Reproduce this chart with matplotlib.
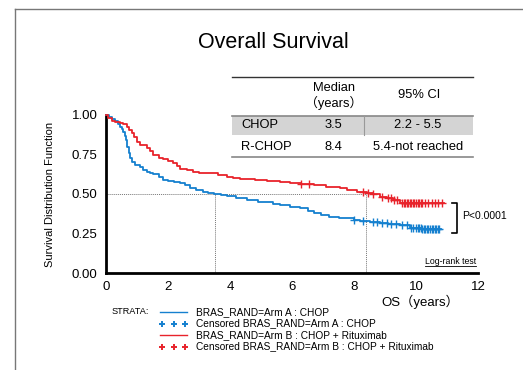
import matplotlib
matplotlib.use("Agg")
import matplotlib.pyplot as plt
import numpy as np

plt.rcParams['font.family'] = ['Liberation Sans', 'Noto Sans CJK JP', 'DejaVu Sans']

# Kaplan-Meier step curves
chop_t = [0, 0.1, 0.2, 0.3, 0.4, 0.45, 0.5, 0.55, 0.6, 0.64, 0.69, 0.73, 0.77, 0.85,
          0.95, 1.1, 1.2, 1.31, 1.42, 1.53, 1.7, 1.85, 2.0, 2.2, 2.39, 2.55, 2.71, 2.9,
          3.14, 3.3, 3.48, 3.7, 3.9, 4.2, 4.54, 4.9, 5.4, 5.6, 5.94, 6.26, 6.5, 6.7,
          6.95, 7.2, 7.5, 7.76, 8.0, 8.2, 8.5, 8.84, 9.1, 9.48, 9.8, 10.2, 10.8]
chop_s = [1.0, 0.985, 0.975, 0.965, 0.945, 0.926, 0.91, 0.89, 0.865, 0.84, 0.80, 0.76,
          0.725, 0.70, 0.685, 0.67, 0.655, 0.64, 0.632, 0.627, 0.61, 0.59, 0.582, 0.575,
          0.57, 0.555, 0.54, 0.528, 0.515, 0.508, 0.50, 0.493, 0.487, 0.475, 0.46, 0.45,
          0.437, 0.43, 0.416, 0.41, 0.395, 0.38, 0.368, 0.356, 0.35, 0.346, 0.338, 0.331,
          0.322, 0.314, 0.308, 0.304, 0.285, 0.28, 0.28]
rchop_t = [0, 0.08, 0.18, 0.3, 0.45, 0.55, 0.67, 0.75, 0.83, 0.9, 0.99, 1.1, 1.31, 1.42,
           1.53, 1.7, 1.85, 2.0, 2.17, 2.28, 2.39, 2.6, 2.82, 3.0, 3.25, 3.6, 3.9, 4.1,
           4.32, 4.8, 5.18, 5.6, 5.94, 6.3, 6.7, 7.1, 7.55, 7.76, 8.1, 8.41, 8.6, 8.84,
           9.05, 9.27, 9.48, 10.9]
rchop_s = [1.0, 0.98, 0.96, 0.955, 0.947, 0.94, 0.926, 0.905, 0.884, 0.86, 0.83, 0.81,
           0.79, 0.77, 0.747, 0.73, 0.72, 0.71, 0.694, 0.675, 0.658, 0.65, 0.641, 0.636,
           0.631, 0.62, 0.61, 0.60, 0.593, 0.587, 0.582, 0.575, 0.568, 0.565, 0.557,
           0.547, 0.536, 0.525, 0.515, 0.504, 0.497, 0.483, 0.472, 0.462, 0.441, 0.441]

chop_cens = [8.0, 8.3, 8.6, 8.75, 8.9, 9.05, 9.2, 9.35, 9.55, 9.7, 9.85, 9.9, 10.0,
             10.05, 10.1, 10.15, 10.2, 10.25, 10.3, 10.35, 10.4, 10.45, 10.5, 10.55,
             10.6, 10.65, 10.7, 10.75]
rchop_cens = [6.3, 6.55, 8.3, 8.45, 8.6, 8.9, 9.1, 9.2, 9.3, 9.4, 9.55, 9.6, 9.65, 9.7,
              9.75, 9.8, 9.85, 9.9, 9.95, 10.0, 10.05, 10.1, 10.15, 10.2, 10.3, 10.4,
              10.5, 10.6, 10.7, 10.85]

medians = {'CHOP': 3.5, 'R-CHOP': 8.4}
table_rows = [('CHOP', '3.5', '2.2 - 5.5'), ('R-CHOP', '8.4', '5.4-not reached')]
legend_labels = ['BRAS_RAND=Arm A : CHOP', 'Censored BRAS_RAND=Arm A : CHOP',
                 'BRAS_RAND=Arm B : CHOP + Rituximab',
                 'Censored BRAS_RAND=Arm B : CHOP + Rituximab']

BLUE = '#1580cf'
RED = '#e8232b'
W, H = 523, 370


def step_at(ts, ss, x):
    ts = np.asarray(ts)
    ss = np.asarray(ss)
    idx = np.searchsorted(ts, x, side='right') - 1
    return ss[idx]


fig = plt.figure(figsize=(W / 100, H / 100), dpi=100)
ax = fig.add_axes([106 / W, 1 - 273 / H, 372 / W, 158 / H])

ax.step(chop_t, chop_s, where='post', color=BLUE, lw=1.3, clip_on=False, zorder=3)
ax.step(rchop_t, rchop_s, where='post', color=RED, lw=1.3, clip_on=False, zorder=3)
ax.plot(chop_cens, step_at(chop_t, chop_s, chop_cens), '+', color=BLUE, ms=6, mew=1.0,
        clip_on=False, zorder=3)
ax.plot(rchop_cens, step_at(rchop_t, rchop_s, rchop_cens), '+', color=RED, ms=6, mew=1.0,
        clip_on=False, zorder=3)

# median guides
dot = dict(color='#777777', lw=0.7, ls=(0, (1, 1)), zorder=2)
ax.plot([0, medians['R-CHOP']], [0.5, 0.5], **dot)
ax.plot([medians['CHOP']] * 2, [0, 0.5], **dot)
ax.plot([medians['R-CHOP']] * 2, [0, 0.5], **dot)

ax.set_xlim(0, 12)
ax.set_ylim(0, 1)
ax.set_xticks([0, 2, 4, 6, 8, 10, 12])
ax.set_yticks([0, 0.25, 0.5, 0.75, 1.0])
ax.set_yticklabels(['0.00', '0.25', '0.50', '0.75', '1.00'])
ax.tick_params(length=0, labelsize=9.5, pad=6)
for s in ['top', 'right']:
    ax.spines[s].set_visible(False)
for s in ['left', 'bottom']:
    ax.spines[s].set_linewidth(2)
ax.set_ylabel('Survival Distribution Function', fontsize=8, labelpad=12)

# p-value bracket
ax.plot([11.15, 11.31, 11.31, 11.15], [0.445, 0.445, 0.255, 0.255], color='black',
        lw=1.2, clip_on=False)
ax.text(11.48, 0.36, 'P<0.0001', fontsize=7.5, va='center', ha='left')
lr = ax.text(11.93, 0.045, 'Log-rank test', fontsize=6.3, ha='right', va='bottom')

# overlay in pixel coordinates for frame, title, table, legend
ov = fig.add_axes([0, 0, 1, 1], facecolor='none')
ov.set_xlim(0, W)
ov.set_ylim(H, 0)
ov.axis('off')

ov.plot([15, W], [9, 9], color='#777777', lw=1)
ov.plot([15, 15], [9, H], color='#777777', lw=1)
ov.text(273, 43, 'Overall Survival', fontsize=15.5, ha='center', va='center')

# summary table
ov.add_patch(plt.Rectangle((232, 116), 241, 19, color='#d4d4d4', lw=0, zorder=1))
ov.plot([232, 473], [76.5, 76.5], color='#333333', lw=1)
ov.plot([232, 473], [115.5, 115.5], color='#888888', lw=1.2)
ov.plot([232, 473], [156.5, 156.5], color='#888888', lw=1.2)
ov.plot([364, 364], [116, 135], color='#999999', lw=0.8, zorder=2)
ov.text(334, 88, 'Median', fontsize=9.3, ha='center', va='center')
ov.text(334, 103, '（years）', fontsize=9.3, ha='center', va='center')
ov.text(419, 95, '95% CI', fontsize=9.3, ha='center', va='center')
for i, (name, med, ci) in enumerate(table_rows):
    y = 125.5 + i * 21
    ov.text(241, y, name, fontsize=9.3, ha='left', va='center', zorder=3)
    ov.text(333, y, med, fontsize=9.3, ha='center', va='center', zorder=3)
    ov.text(418, y, ci, fontsize=9.3, ha='center', va='center', zorder=3)

ov.text(420, 302, 'OS（years）', fontsize=9.5, ha='center', va='center')

# legend
ov.text(112, 312, 'STRATA:', fontsize=6.6, ha='left', va='center')
cols = [BLUE, BLUE, RED, RED]
for i, (lab, c) in enumerate(zip(legend_labels, cols)):
    y = 312 + i * 11.5
    if i % 2 == 0:
        ov.plot([160, 187], [y, y], color=c, lw=1)
    else:
        ov.plot([162, 173.5, 185], [y, y, y], '+', color=c, ms=5, mew=1.4)
    ov.text(196, y, lab, fontsize=7.3, ha='left', va='center')

# underline for log-rank label
fig.canvas.draw()
bb = lr.get_window_extent().transformed(ov.transData.inverted())
ov.plot([bb.x0, bb.x1], [bb.y0 + 0.5, bb.y0 + 0.5], color='black', lw=0.6)

fig.savefig('out.png', dpi=100)
